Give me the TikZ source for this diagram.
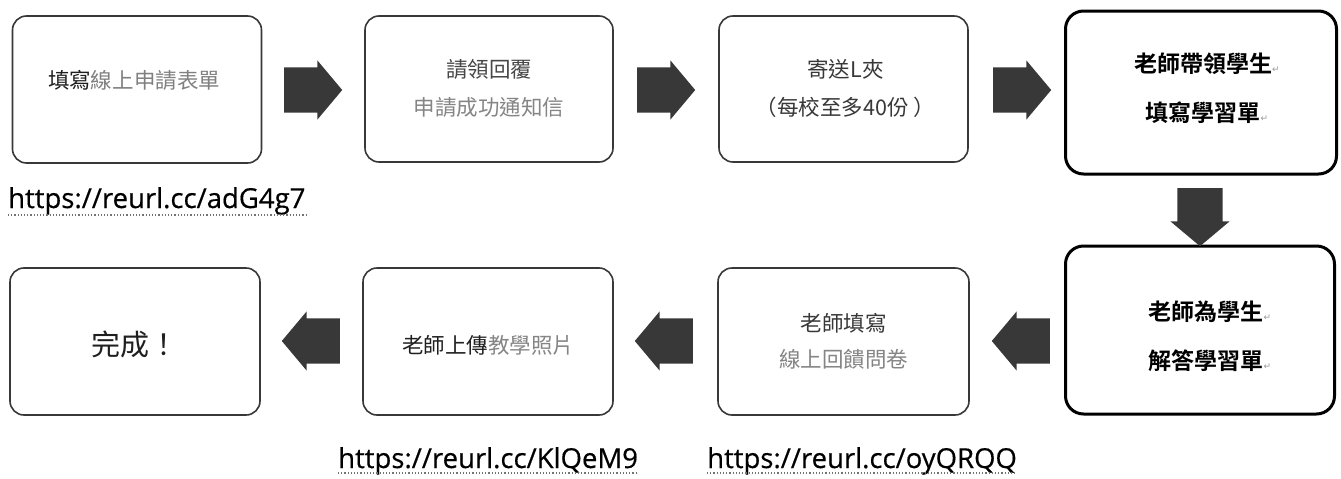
\documentclass[tikz,border=0pt]{standalone}
\usepackage{fontspec}
\setmainfont{Open Sans}
\newfontfamily\urlfont[FakeBold=0.5]{Open Sans}
\newfontfamily\cjk{Noto Sans CJK TC}
\newfontfamily\cjkbold{Noto Sans CJK TC Bold}
\newfontfamily\symfont{DejaVu Sans}
\usetikzlibrary{shapes.arrows,calc}
\begin{document}
\begin{tikzpicture}[x=1pt,y=-1pt,
  box/.style={draw=black!78, line width=1.6pt, rounded corners=14pt, fill=white, inner sep=0pt},
  keybox/.style={draw=black, line width=3pt, rounded corners=18pt, fill=white, inner sep=0pt},
  blk/.style={single arrow, fill=black!78, draw=none, inner sep=0pt, anchor=tail,
    text height=22.5pt, text depth=22.5pt, single arrow head extend=7pt,
    single arrow head indent=0pt, single arrow tip angle=100, minimum height=58pt},
  txt/.style={font=\cjk\fontsize{21.5}{38}\selectfont, align=center, inner sep=0pt},
  keytxt/.style={font=\cjkbold\fontsize{23}{49}\selectfont, align=center, inner sep=0pt},
  url/.style={font=\urlfont\fontsize{27.5}{30}\selectfont, anchor=base west, inner sep=0pt, text=black},
  uline/.style={draw=black!55, line width=1.2pt, dotted}
]
\useasboundingbox (0,0) rectangle (1341,479);
\newcommand{\pmark}{\textcolor{black!40}{\symfont\fontsize{9}{9}\selectfont ↵}}

% boxes
\node[box, minimum width=249pt, minimum height=147pt] (b1) at (137,89.5) {};
\node[box, minimum width=248pt, minimum height=146pt] (b2) at (489,89) {};
\node[box, minimum width=249pt, minimum height=146pt] (b3) at (843.5,89) {};
\node[keybox, minimum width=271pt, minimum height=163pt] (b4) at (1201,92.5) {};
\node[keybox, minimum width=269pt, minimum height=168pt] (b5) at (1200,330) {};
\node[box, minimum width=251pt, minimum height=147pt] (b6) at (843.5,341.5) {};
\node[box, minimum width=250pt, minimum height=147pt] (b7) at (488,341.5) {};
\node[box, minimum width=250pt, minimum height=147pt] (b8) at (135,341.5) {};

% texts
\node[txt] (t1) at ($(b1.center)+(-3,-9.5)$) {\textcolor{black!88}{填寫}\textcolor{black!50}{線上申請表單}};
\node[txt] (t2) at ($(b2.center)+(0,-1)$) {\textcolor{black!72}{請領回覆}\\\textcolor{black!48}{申請成功通知信}};
\node[txt] (t3) at ($(b3.center)+(2,-1)$) {\textcolor{black!78}{寄送L夾}\\\textcolor{black!78}{（每校至多40份 ）}};
\node[keytxt] (t4) at ($(b4.center)+(6,-4)$) {老師帶領學生\pmark\\填寫學習單\pmark};
\node[keytxt] (t5) at ($(b5.center)+(10,6)$) {老師為學生\pmark\\解答學習單\pmark};
\node[txt] (t6) at ($(b6.center)+(0,0)$) {\textcolor{black!78}{老師填寫}\\[-2pt]\textcolor{black!48}{線上回饋問卷}};
\node[txt] (t7) at ($(b7.center)+(0,3.5)$) {\textcolor{black!88}{老師上傳}\textcolor{black!48}{教學照片}};
\node[txt, font=\cjk\fontsize{29}{30}\selectfont] (t8) at ($(b8.center)+(0,2.5)$) {\textcolor{black!88}{完成！}};

% block arrows
\node[blk] (a12) at (284,90) {};
\node[blk] (a23) at (637,90) {};
\node[blk] (a34) at (993,90) {};
\node[blk, rotate=270] (a45) at (1200,188) {};
\node[blk, rotate=180] (a56) at (1050,341) {};
\node[blk, rotate=180] (a67) at (693,341) {};
\node[blk, rotate=180] (a78) at (340,341) {};

% urls
\node[url] (u1) at (8,208) {https://reurl.cc/adG4g7};
\node[url] (u2) at (338,468) {https://reurl.cc/KlQeM9};
\node[url] (u3) at (707,468) {https://reurl.cc/oyQRQQ};
\draw[uline] ($(u1.base west)+(0,7)$) -- ($(u1.base east)+(0,7)$);
\draw[uline] ($(u2.base west)+(0,5)$) -- ($(u2.base east)+(0,5)$);
\draw[uline] ($(u3.base west)+(0,5)$) -- ($(u3.base east)+(0,5)$);
\end{tikzpicture}
\end{document}
